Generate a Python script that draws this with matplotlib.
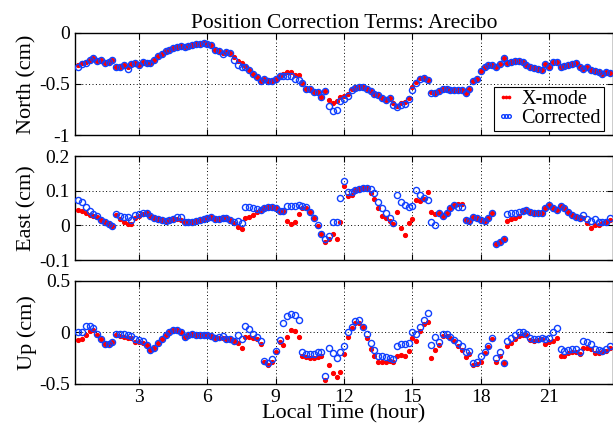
import numpy as np
import matplotlib
matplotlib.use("Agg")
import matplotlib.pyplot as plt

plt.rcParams['font.family'] = ['Liberation Serif', 'DejaVu Serif']
plt.rcParams['axes.unicode_minus'] = True

# 10-minute samples, local time (hour)
hours = np.arange(2, 143) / 6.0

north_xmode = [
    -0.31, -0.29, -0.286, -0.26, -0.25, -0.27, -0.26, -0.29, -0.28, -0.265, -0.335, -0.33,
    -0.31, -0.335, -0.30, -0.295, -0.31, -0.28, -0.29, -0.29, -0.26, -0.23, -0.205, -0.18,
    -0.165, -0.146, -0.14, -0.127, -0.14, -0.13, -0.114, -0.107, -0.107, -0.10, -0.107, -0.12,
    -0.165, -0.18, -0.20, -0.19, -0.20, -0.237, -0.276, -0.295, -0.32, -0.36, -0.40, -0.43,
    -0.47, -0.45, -0.47, -0.47, -0.45, -0.425, -0.40, -0.383, -0.386, -0.41, -0.415, -0.49,
    -0.545, -0.55, -0.58, -0.575, -0.63, -0.57, -0.66, -0.685, -0.67, -0.63, -0.62, -0.60,
    -0.55, -0.54, -0.53, -0.53, -0.55, -0.57, -0.594, -0.61, -0.633, -0.66, -0.64, -0.69,
    -0.72, -0.69, -0.675, -0.64, -0.53, -0.48, -0.44, -0.44, -0.465, -0.58, -0.59, -0.57,
    -0.55, -0.55, -0.56, -0.56, -0.56, -0.56, -0.59, -0.545, -0.47, -0.45, -0.373, -0.334,
    -0.31, -0.31, -0.334, -0.30, -0.25, -0.29, -0.286, -0.276, -0.276, -0.286, -0.31, -0.334,
    -0.344, -0.357, -0.367, -0.30, -0.33, -0.286, -0.286, -0.334, -0.32, -0.31, -0.30, -0.295,
    -0.334, -0.35, -0.33, -0.36, -0.373, -0.38, -0.405, -0.38, -0.39]
north_corr = [
    -0.33, -0.30, -0.295, -0.26, -0.25, -0.27, -0.26, -0.29, -0.28, -0.265, -0.335, -0.33,
    -0.31, -0.35, -0.30, -0.295, -0.31, -0.28, -0.29, -0.29, -0.26, -0.23, -0.205, -0.18,
    -0.165, -0.146, -0.14, -0.127, -0.14, -0.13, -0.114, -0.107, -0.107, -0.10, -0.107, -0.12,
    -0.165, -0.18, -0.21, -0.19, -0.20, -0.26, -0.31, -0.33, -0.33, -0.36, -0.40, -0.43,
    -0.47, -0.45, -0.47, -0.47, -0.45, -0.425, -0.425, -0.42, -0.425, -0.45, -0.46, -0.49,
    -0.545, -0.55, -0.58, -0.575, -0.63, -0.57, -0.72, -0.76, -0.75, -0.67, -0.65, -0.62,
    -0.56, -0.54, -0.53, -0.53, -0.55, -0.57, -0.594, -0.61, -0.633, -0.66, -0.64, -0.71,
    -0.73, -0.71, -0.70, -0.65, -0.555, -0.495, -0.45, -0.44, -0.465, -0.59, -0.59, -0.57,
    -0.55, -0.55, -0.56, -0.56, -0.56, -0.56, -0.59, -0.545, -0.47, -0.45, -0.373, -0.334,
    -0.31, -0.31, -0.334, -0.30, -0.25, -0.29, -0.286, -0.276, -0.276, -0.286, -0.31, -0.334,
    -0.344, -0.357, -0.367, -0.30, -0.33, -0.286, -0.286, -0.334, -0.32, -0.31, -0.30, -0.295,
    -0.334, -0.35, -0.33, -0.36, -0.373, -0.38, -0.405, -0.38, -0.39]

east_xmode = [
    0.044, 0.041, 0.037, 0.030, 0.028, 0.025, 0.015, 0.009, 0.003, -0.001, 0.030, 0.018,
    0.011, 0.004, 0.003, 0.020, 0.028, 0.032, 0.037, 0.028, 0.022, 0.018, 0.015, 0.014,
    0.015, 0.018, 0.017, 0.015, 0.011, 0.011, 0.009, 0.013, 0.015, 0.018, 0.022, 0.025,
    0.018, 0.018, 0.020, 0.022, 0.015, 0.008, -0.004, -0.011, 0.020, 0.025, 0.030, 0.039,
    0.043, 0.049, 0.054, 0.054, 0.049, 0.041, 0.041, 0.0125, 0.004, 0.011, 0.033, 0.051,
    0.049, 0.039, 0.020, -0.002, -0.026, -0.049, -0.040, -0.025, -0.039, 0.011, 0.114, 0.085,
    0.089, 0.102, 0.105, 0.109, 0.107, 0.094, 0.076, 0.049, 0.028, 0.020, 0.0125, 0.003,
    0.039, -0.009, -0.028, 0.006, 0.018, 0.073, 0.070, 0.076, 0.097, 0.039, 0.032, 0.035,
    0.028, 0.037, 0.051, 0.060, 0.063, 0.062, 0.015, 0.0125, 0.025, 0.020, 0.015, 0.0125,
    0.022, 0.037, -0.055, -0.047, -0.040, 0.0125, 0.018, 0.020, 0.028, 0.041, 0.044, 0.039,
    0.037, 0.037, 0.036, 0.051, 0.060, 0.051, 0.044, 0.057, 0.049, 0.039, 0.030, 0.025,
    0.022, 0.020, 0.006, -0.009, 0.001, 0.001, 0.006, 0.009, 0.015]
east_corr = [
    0.073, 0.066, 0.054, 0.041, 0.032, 0.026, 0.015, 0.009, 0.003, -0.001, 0.033, 0.027,
    0.025, 0.025, 0.015, 0.030, 0.033, 0.035, 0.037, 0.028, 0.022, 0.018, 0.015, 0.014,
    0.015, 0.018, 0.024, 0.024, 0.011, 0.011, 0.009, 0.013, 0.015, 0.018, 0.022, 0.025,
    0.018, 0.018, 0.020, 0.022, 0.015, 0.011, 0.013, 0.006, 0.052, 0.052, 0.051, 0.047,
    0.044, 0.049, 0.054, 0.054, 0.049, 0.041, 0.041, 0.057, 0.057, 0.057, 0.059, 0.056,
    0.054, 0.039, 0.020, 0.001, -0.026, -0.039, -0.030, 0.011, 0.009, 0.078, 0.128, 0.095,
    0.095, 0.102, 0.105, 0.109, 0.109, 0.105, 0.092, 0.068, 0.049, 0.035, 0.020, 0.006,
    0.089, 0.066, 0.059, 0.054, 0.057, 0.102, 0.088, 0.078, 0.073, 0.009, 0.001, 0.037,
    0.028, 0.037, 0.051, 0.060, 0.054, 0.054, 0.015, 0.0125, 0.025, 0.020, 0.015, 0.0125,
    0.022, 0.037, -0.055, -0.047, -0.040, 0.032, 0.037, 0.037, 0.039, 0.041, 0.044, 0.039,
    0.037, 0.037, 0.036, 0.051, 0.060, 0.051, 0.044, 0.057, 0.049, 0.039, 0.030, 0.025,
    0.022, 0.030, 0.018, 0.0125, 0.018, 0.011, 0.009, 0.009, 0.020]

up_xmode = [
    -0.074, -0.065, -0.02, 0.016, 0.023, -0.026, -0.065, -0.11, -0.11, -0.097, -0.026, -0.032,
    -0.042, -0.058, -0.058, -0.09, -0.097, -0.10, -0.12, -0.17, -0.148, -0.106, -0.065, -0.02,
    0.006, 0.023, 0.023, 0.006, -0.042, -0.026, -0.016, -0.026, -0.026, -0.026, -0.026, -0.032,
    -0.052, -0.052, -0.052, -0.065, -0.065, -0.084, -0.106, -0.148, -0.042, -0.042, -0.052, -0.065,
    -0.116, -0.29, -0.316, -0.284, -0.194, -0.09, -0.123, -0.042, 0.023, 0.013, -0.042, -0.226,
    -0.235, -0.245, -0.245, -0.235, -0.226, -0.46, -0.32, -0.39, -0.43, -0.38, -0.213, -0.048,
    0.039, 0.097, 0.097, 0.055, -0.052, -0.16, -0.226, -0.29, -0.284, -0.29, -0.277, -0.29,
    -0.226, -0.219, -0.226, -0.18, -0.052, -0.084, 0.013, 0.08, 0.103, -0.245, -0.17, -0.123,
    -0.032, -0.032, -0.052, -0.084, -0.132, -0.17, -0.235, -0.213, -0.316, -0.306, -0.284, -0.203,
    -0.139, -0.065, -0.284, -0.226, -0.294, -0.13, -0.106, -0.065, -0.032, -0.026, -0.026, -0.074,
    -0.08, -0.074, -0.065, -0.113, -0.097, -0.084, -0.058, -0.226, -0.226, -0.197, -0.187, -0.187,
    -0.213, -0.148, -0.148, -0.161, -0.203, -0.203, -0.194, -0.18, -0.155]
up_corr = [
    0.0, 0.0, 0.065, 0.06, 0.039, -0.016, -0.065, -0.11, -0.11, -0.097, -0.016, -0.019,
    -0.019, -0.026, -0.032, -0.065, -0.074, -0.084, -0.12, -0.17, -0.148, -0.106, -0.065, -0.02,
    0.006, 0.023, 0.023, 0.006, -0.042, -0.026, -0.016, -0.026, -0.026, -0.026, -0.026, -0.032,
    -0.052, -0.042, -0.032, -0.065, -0.065, -0.084, -0.026, -0.065, 0.065, 0.032, -0.016, -0.042,
    -0.084, -0.277, -0.294, -0.258, -0.18, -0.074, 0.097, 0.16, 0.184, 0.174, 0.12, -0.194,
    -0.213, -0.213, -0.213, -0.194, -0.194, -0.42, -0.155, -0.197, -0.245, -0.187, -0.13, 0.0,
    0.055, 0.11, 0.126, 0.055, -0.01, -0.106, -0.17, -0.226, -0.226, -0.235, -0.245, -0.261,
    -0.13, -0.116, -0.116, -0.106, 0.006, -0.019, 0.055, 0.12, 0.19, -0.123, -0.042, -0.097,
    -0.016, -0.01, -0.042, -0.074, -0.106, -0.13, -0.194, -0.18, -0.30, -0.284, -0.226, -0.194,
    -0.13, -0.058, -0.25, -0.194, -0.294, -0.084, -0.052, -0.026, 0.0, 0.0, -0.01, -0.058,
    -0.065, -0.065, -0.052, -0.065, -0.052, 0.0, 0.039, -0.165, -0.18, -0.171, -0.161, -0.161,
    -0.194, -0.084, -0.097, -0.116, -0.161, -0.171, -0.181, -0.161, -0.13]

panels = [
    ("North (cm)", north_xmode, north_corr, (-1, 0), [-1, -0.5, 0]),
    ("East (cm)", east_xmode, east_corr, (-0.1, 0.2), [-0.1, 0, 0.1, 0.2]),
    ("Up (cm)", up_xmode, up_corr, (-0.5, 0.5), [-0.5, 0, 0.5]),
]
xticks = [3, 6, 9, 12, 15, 18, 21]

fig = plt.figure(figsize=(6.13, 4.29), dpi=100)
rects = [[0.1223, 0.6853, 0.8777, 0.2378],
         [0.1223, 0.3939, 0.8777, 0.2424],
         [0.1223, 0.1049, 0.8777, 0.2401]]

axes = []
for rect, (lab, xm, co, ylim, yt) in zip(rects, panels):
    ax = fig.add_axes(rect)
    ax.plot(hours, xm, '.', color='#ff0000', markersize=5.5, label='X-mode', zorder=3)
    ax.plot(hours, co, 'o', color='#1040ff', markerfacecolor='none', markersize=4.4,
            markeredgewidth=1.0, label='Corrected', zorder=3)
    ax.set_xlim(0.19, 23.8)
    ax.set_ylim(*ylim)
    ax.set_yticks(yt)
    ax.set_yticklabels(['%g' % v for v in yt])
    ax.set_xticks(xticks)
    ax.grid(True, linestyle=(0, (1, 2.5)), color='black', linewidth=0.7)
    ax.tick_params(direction='in', top=True, right=True, labelsize=14, length=4)
    ax.set_ylabel(lab, fontsize=16, labelpad=2)
    for s in ax.spines.values():
        s.set_linewidth(1.0)
    axes.append(ax)

axes[0].set_xticklabels([])
axes[1].set_xticklabels([])
axes[2].set_xticklabels([str(v) for v in xticks])
axes[2].set_xlabel("Local Time (hour)", fontsize=16, labelpad=-1)
axes[0].set_title("Position Correction Terms: Arecibo", fontsize=15.5, pad=3)

leg = axes[0].legend(loc='lower right', bbox_to_anchor=(0.983, 0.04), numpoints=3,
                     markerscale=0.6, fontsize=14.5, fancybox=False,
                     edgecolor='black', framealpha=1, borderpad=0.15, labelspacing=0.0,
                     handlelength=0.9, handletextpad=0.3, borderaxespad=0.0)
leg.get_frame().set_linewidth(0.8)

fig.savefig("out.png", dpi=100)
